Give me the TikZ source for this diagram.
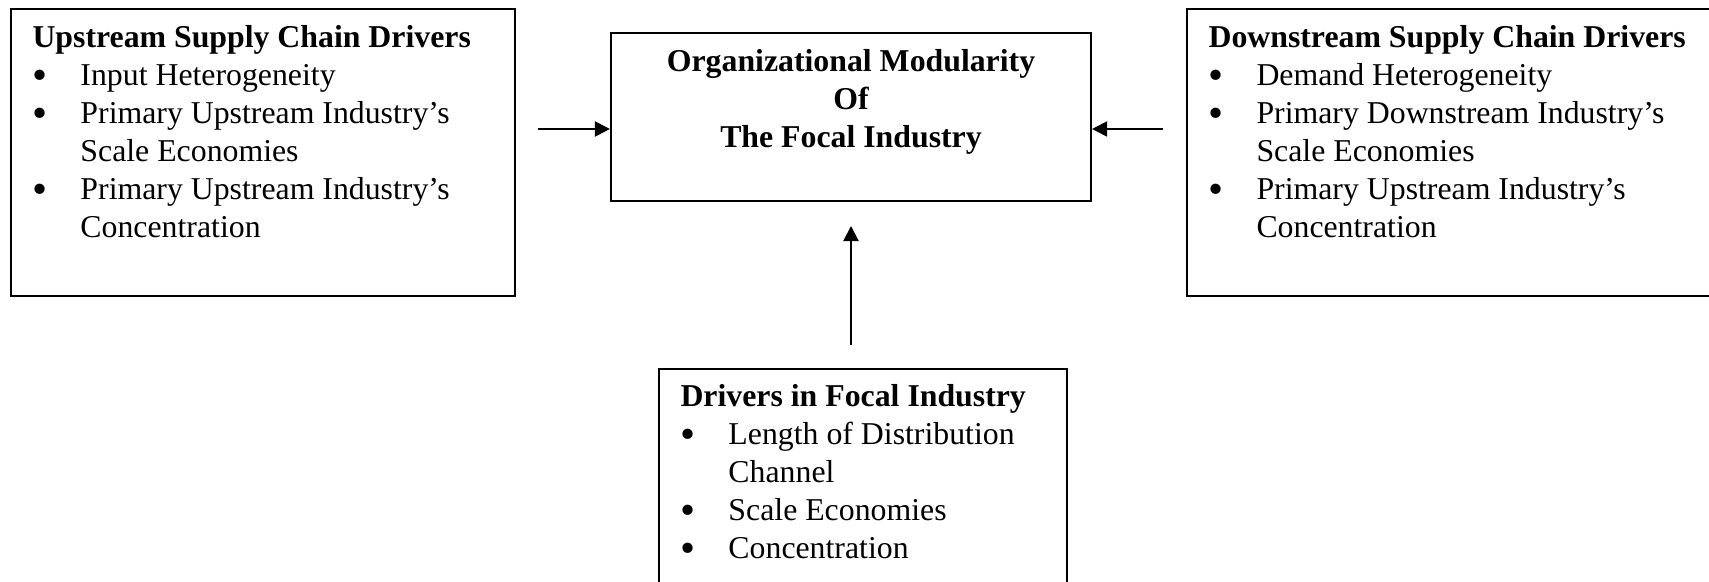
\documentclass[tikz,border=0pt]{standalone}
\usepackage{graphicx}
\usepackage{fontspec}
\setmainfont{Liberation Serif}
\usetikzlibrary{arrows.meta,fit}

\newlength{\bulletgap}
\setlength{\bulletgap}{18.1pt}
\newcommand{\bigdot}{\raisebox{-0.1em}{\scalebox{1.35}{\textbullet}}}
\newcommand{\bitem}[1]{\makebox[\bulletgap][l]{\bigdot}#1}
\newcommand{\bcont}[1]{\hspace*{\bulletgap}#1}

\tikzset{
  box/.style={draw, line width=0.8pt, inner sep=0pt},
  blurb/.style={inner sep=0pt, font=\fontsize{12}{14.34}\selectfont},
  feed/.style={line width=0.8pt, -{Triangle[length=5.7pt,width=5.7pt]}}
}

\begin{document}
\begin{tikzpicture}[x=0.3774pt, y=-0.3774pt]

\useasboundingbox (0,0) rectangle (1709,582);
\clip (0,0) rectangle (1709,582);

% the four boxes
\node [box, fit={(11,9) (515,296)}] (up) {};
\node [box, fit={(611,33) (1091,201)}] (mod) {};
\node [box, fit={(1187,9) (1730,296)}] (down) {};
\node [box, fit={(659,369) (1067,620)}] (focal) {};

\node [blurb, anchor=base west] (upT) at (32,48) {\parbox[t]{12cm}{%
  {\bfseries Upstream Supply Chain Drivers}\\
  \bitem{Input Heterogeneity}\\
  \bitem{Primary Upstream Industry's}\\
  \bcont{Scale Economies}\\
  \bitem{Primary Upstream Industry's}\\
  \bcont{Concentration}}};

\node [blurb, anchor=base] (modT) at (851,72) {\parbox[t]{8cm}{\centering\bfseries
  Organizational Modularity\\
  Of\\
  The Focal Industry}};

\node [blurb, anchor=base west] (downT) at (1208,48) {\parbox[t]{12cm}{%
  {\bfseries Downstream Supply Chain Drivers}\\
  \bitem{Demand Heterogeneity}\\
  \bitem{Primary Downstream Industry's}\\
  \bcont{Scale Economies}\\
  \bitem{Primary Upstream Industry's}\\
  \bcont{Concentration}}};

\node [blurb, anchor=base west] (focalT) at (680,407) {\parbox[t]{12cm}{%
  {\bfseries Drivers in Focal Industry}\\
  \bitem{Length of Distribution}\\
  \bcont{Channel}\\
  \bitem{Scale Economies}\\
  \bitem{Concentration}}};

% arrows into the middle box
\coordinate (upOut) at (538,129);
\coordinate (downOut) at (1163,129);
\coordinate (focalOut) at (851,345);
\coordinate (focalIn) at (851,226);

\draw [feed] (upOut) -- (mod.west |- upOut);
\draw [feed] (downOut) -- (mod.east |- downOut);
\draw [feed] (focalOut) -- (focalIn);

\end{tikzpicture}
\end{document}
